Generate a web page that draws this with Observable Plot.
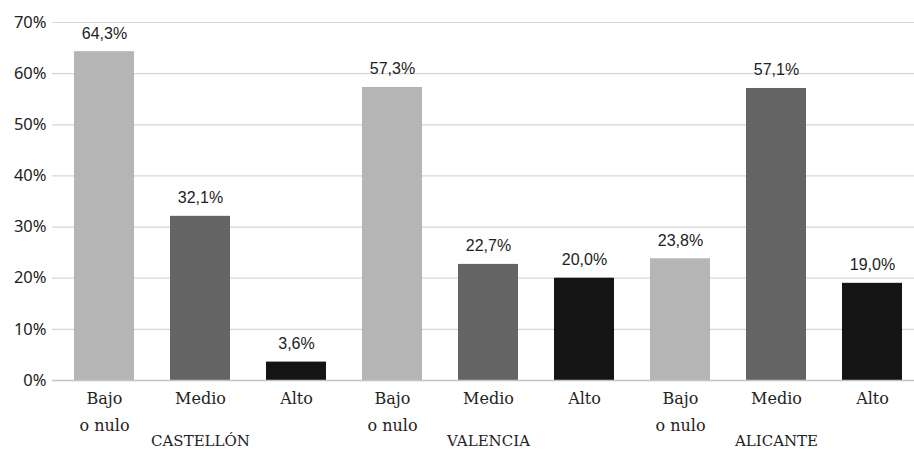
<!DOCTYPE html>
<html>
<head>
<meta charset="utf-8">
<script src="https://cdn.jsdelivr.net/npm/d3@7"></script>
<script src="https://cdn.jsdelivr.net/npm/@observablehq/plot@0.6"></script>
<style>
  html, body { margin: 0; padding: 0; background: #fff; }
  #chart svg { display: block; }
</style>
</head>
<body>
<div id="chart"></div>
<script>
// --- data ---
const groups = ["CASTELLÓN", "VALENCIA", "ALICANTE"];
const levels = ["Bajo\no nulo", "Medio", "Alto"];
const levelColors = ["#b5b5b5", "#646464", "#141414"];
const castellon = [64.3, 32.1, 3.6];
const valencia = [57.3, 22.7, 20.0];
const alicante = [23.8, 57.1, 19.0];
const yTicks = [0, 10, 20, 30, 40, 50, 60, 70];

const seriesByGroup = [castellon, valencia, alicante];
const rows = [];
groups.forEach((g, gi) => {
  levels.forEach((l, li) => {
    rows.push({id: g + "|" + li, group: g, level: l, li, value: seriesByGroup[gi][li]});
  });
});
const groupRows = groups.map((g) => ({group: g, id: g + "|1"}));
const fmt = (v) => v.toFixed(1).replace(".", ",") + "%";

const chart = Plot.plot({
  width: 914,
  height: 449,
  marginLeft: 52,
  marginRight: 0,
  marginTop: 22,
  marginBottom: 69,
  style: {background: "#fff", color: "#222"},
  x: {type: "band", domain: rows.map(d => d.id), range: [51.6, 923.2], paddingInner: 0.38, paddingOuter: 0.19, axis: null},
  y: {domain: [0, 70], axis: null},
  color: {domain: levels, range: levelColors},
  marks: [
    Plot.ruleY(yTicks.filter(t => t > 0), {stroke: "#d6d6d6", strokeWidth: 1.2}),
    Plot.barY(rows, {x: "id", y: "value", fill: "level"}),
    Plot.ruleY([0], {stroke: "#c4c4c4", strokeWidth: 1.5}),
    Plot.axisY({ticks: yTicks, tickSize: 0, tickPadding: 6, tickFormat: d => d + "%", fontSize: 16.5, fontFamily: "Noto Sans", fill: "#222", label: null}),
    Plot.text(rows, {x: "id", y: "value", text: d => fmt(d.value), dy: -13, lineAnchor: "bottom", fontSize: 16, fontFamily: "Liberation Sans", fill: "#222"}),
    Plot.text(rows, {x: "id", text: "level", frameAnchor: "bottom", lineAnchor: "top", dy: 5, lineHeight: 1.65, fontSize: 16, fontFamily: "DejaVu Serif", fill: "#222"}),
    Plot.text(groupRows, {x: "id", text: "group", frameAnchor: "bottom", lineAnchor: "top", dy: 55, fontSize: 15, fontFamily: "DejaVu Serif", fill: "#222"})
  ]
});
document.getElementById("chart").appendChild(chart);
</script>
</body>
</html>
